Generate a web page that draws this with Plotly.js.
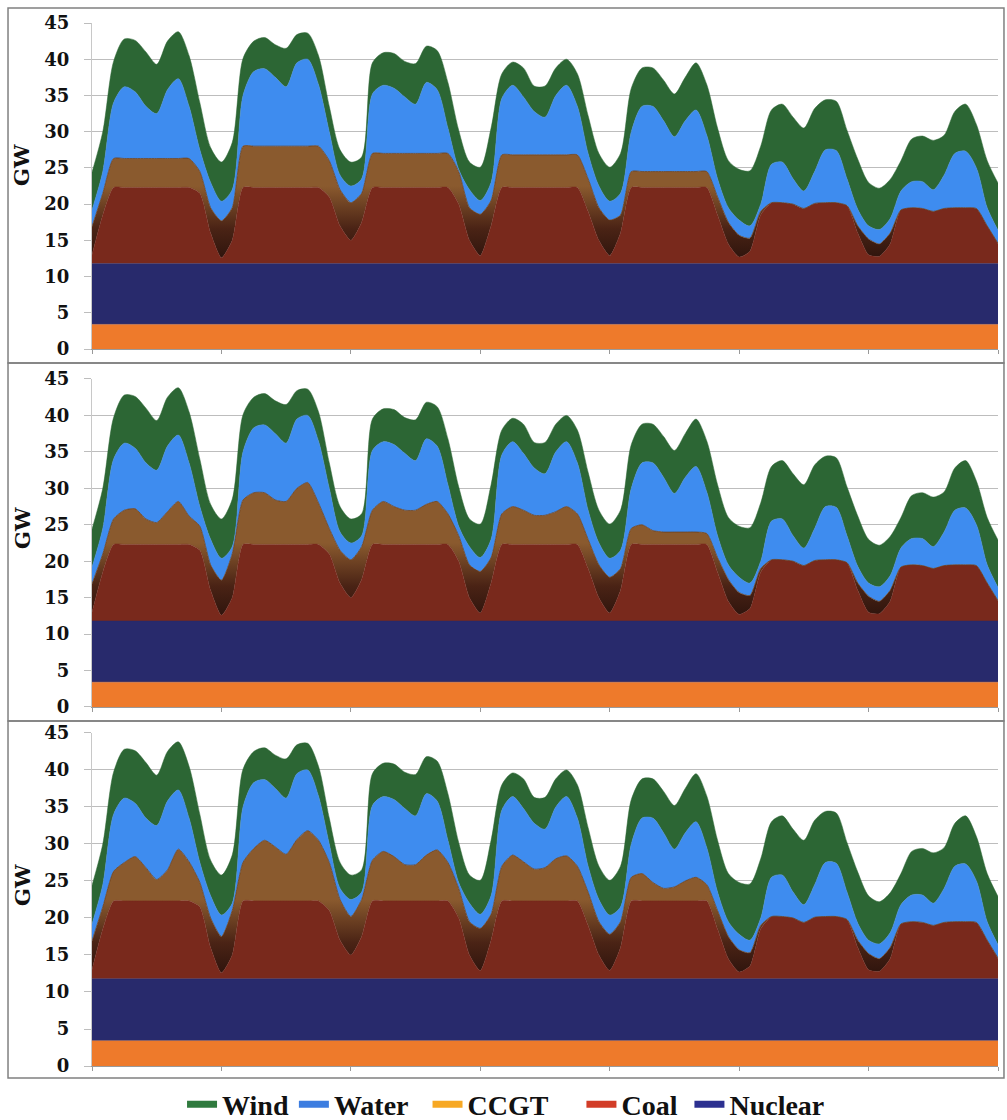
<!DOCTYPE html>
<html>
<head>
<meta charset="utf-8">
<script src="https://cdn.plot.ly/plotly-3.0.1.min.js"></script>
<style>html,body{margin:0;padding:0;background:#fff;}#chart{width:1007px;height:1120px;}</style>
</head>
<body>
<div id="chart"></div>
<script>
// ---- Data (GW). Hourly axis, one value every 2 hours (h0 .. h168) ----
// Upper boundary of each stacked layer.
const legendNames = ['Wind', 'Water', 'CCGT', 'Coal', 'Nuclear'];
const dayTicks = [0, 24, 48, 72, 96, 120, 144, 168];

const baseTop = [3.4, 3.4];        // orange base band (flat over the week)
const nuclearTop = [11.8, 11.8];   // nuclear (flat over the week)

const coalTop = [
  13.0,18.5,22.3,22.3,22.3,22.3,22.3,22.3,22.3,22.3,21.5,16.0,
  12.6,15.0,22.3,22.3,22.3,22.3,22.3,22.3,22.3,22.3,21.0,17.0,
  15.0,17.5,22.3,22.3,22.3,22.3,22.3,22.3,22.3,22.3,20.0,15.0,
  12.9,17.0,22.3,22.3,22.3,22.3,22.3,22.3,22.3,22.3,19.0,15.0,
  12.9,16.0,22.3,22.3,22.3,22.3,22.3,22.3,22.3,22.3,18.5,14.5,
  12.7,13.5,18.5,20.2,20.2,20.0,19.4,20.1,20.2,20.2,19.8,16.0,
  13.0,12.8,14.5,19.2,19.5,19.4,19.0,19.4,19.5,19.5,19.4,17.0,
  14.5];

const ccgtTop1 = [
  16.9,21.5,26.3,26.3,26.3,26.3,26.3,26.3,26.3,26.3,24.5,19.5,
  17.7,19.5,28.0,28.0,28.0,28.0,28.0,28.0,28.0,28.0,26.0,22.0,
  20.2,21.5,27.0,27.0,27.0,27.0,27.0,27.0,27.0,27.0,24.5,19.5,
  18.6,20.5,26.8,26.8,26.8,26.8,26.8,26.8,26.8,26.8,23.5,19.5,
  17.8,18.5,24.5,24.5,24.5,24.5,24.5,24.5,24.5,24.5,21.0,17.5,
  15.7,15.3,19.0,20.2,20.2,20.0,19.4,20.1,20.2,20.2,19.8,17.0,
  15.2,14.5,16.0,19.2,19.5,19.4,19.0,19.4,19.5,19.5,19.4,17.0,
  14.6];

const ccgtTop2 = [
  16.9,21.0,25.8,27.0,27.2,25.8,25.3,26.8,28.2,26.2,24.8,19.5,
  17.4,21.0,28.4,29.4,29.4,28.4,28.2,30.0,30.8,28.0,24.5,21.5,
  20.2,22.0,27.0,28.2,27.5,27.0,27.0,27.8,28.2,26.5,23.5,19.5,
  18.6,20.5,26.5,27.5,27.0,26.3,26.3,26.8,27.5,26.5,23.0,19.5,
  17.8,19.0,24.5,25.0,24.2,24.0,24.0,24.0,24.0,23.8,20.5,17.5,
  15.7,15.3,19.0,20.2,20.2,20.0,19.4,20.1,20.2,20.2,19.8,17.0,
  15.2,14.5,16.0,19.2,19.5,19.4,19.0,19.4,19.5,19.5,19.4,17.0,
  14.6];

const ccgtTop3 = [
  16.9,21.5,26.3,27.5,28.3,26.8,25.2,26.5,29.3,27.6,24.8,20.0,
  17.5,21.0,27.5,29.4,30.5,29.6,28.6,30.6,31.8,30.5,27.5,22.5,
  20.2,22.5,27.8,29.0,28.3,27.2,27.2,28.5,29.2,27.5,24.0,19.5,
  18.6,20.5,27.0,28.5,27.6,26.6,26.8,28.0,28.4,27.0,23.5,19.5,
  17.8,19.5,25.5,26.0,24.8,24.0,24.2,25.0,25.5,24.5,21.0,17.5,
  15.7,15.3,19.0,20.2,20.2,20.0,19.4,20.1,20.2,20.2,19.8,17.0,
  15.2,14.5,16.0,19.2,19.5,19.4,19.0,19.4,19.5,19.5,19.4,17.0,
  14.6];

const waterTop = [
  19.2,24.5,34.0,36.2,35.5,33.5,32.5,35.8,37.3,33.5,27.5,23.0,
  20.4,22.0,35.0,38.3,38.7,37.5,36.2,39.5,40.0,36.5,30.0,24.0,
  22.5,23.5,35.2,36.4,36.0,34.8,33.8,36.8,35.8,30.5,24.8,22.0,
  20.5,23.0,34.6,36.4,34.8,32.8,32.0,35.0,36.4,33.5,27.0,22.5,
  20.4,21.5,30.0,33.5,33.5,31.5,29.3,31.5,33.0,29.5,23.5,19.5,
  17.8,17.0,20.0,25.5,25.8,23.5,21.8,24.5,27.5,27.4,23.5,19.3,
  17.0,16.5,18.0,21.8,23.1,23.1,22.0,24.0,27.0,27.3,25.0,19.5,
  16.4];

const windTop = [
  24.4,30.0,39.7,42.8,42.6,41.0,39.3,42.5,43.8,40.5,34.0,27.8,
  25.8,28.5,40.1,42.5,43.0,42.0,41.5,43.4,43.6,40.5,33.5,27.5,
  25.8,26.5,39.5,40.9,40.8,39.7,39.4,41.8,41.2,36.8,30.2,25.8,
  25.1,30.5,38.0,39.6,38.8,36.3,36.3,38.8,40.0,38.0,32.2,27.0,
  25.1,27.0,36.0,38.8,38.8,37.1,35.2,37.5,39.5,36.5,30.5,26.0,
  24.8,24.6,28.0,33.0,33.8,32.0,30.5,33.2,34.4,34.2,30.2,26.2,
  23.0,22.2,23.4,26.0,29.0,29.4,28.8,29.5,32.8,33.8,31.0,26.0,
  22.9];

const ccgtPanels = [ccgtTop1, ccgtTop2, ccgtTop3];

// ---- Styles ----
const C = {
  base: '#ee7a2b', nuclear: '#282a6c', coal: '#79291c', ccgt: '#8a5a2e',
  water: '#3e8cef', wind: '#2c6634'
};
const legendColors = {Wind: '#2f7a3e', Water: '#3c7de0', CCGT: '#f7a823', Coal: '#d23c27', Nuclear: '#2c3090'};
// trailing no-break spaces only widen the gap after an entry (layout spacing)
const legendPad = {Wind: '', Water: '\u00a0\u00a0', CCGT: '\u00a0\u00a0\u00a0\u00a0', Coal: '\u00a0', Nuclear: ''};

const traces = [];
[1, 2, 3].forEach(function (p) {
  const xa = p === 1 ? 'x' : 'x' + p;
  const ya = p === 1 ? 'y' : 'y' + p;
  const common = {xaxis: xa, yaxis: ya, mode: 'lines', showlegend: false, hoverinfo: 'skip'};
  traces.push(Object.assign({}, common, {
    x0: 0, dx: 168, y: baseTop, fill: 'tozeroy', fillcolor: C.base, line: {width: 0.5, color: C.base}
  }));
  traces.push(Object.assign({}, common, {
    x0: 0, dx: 168, y: nuclearTop, fill: 'tonexty', fillcolor: C.nuclear, line: {width: 0.5, color: C.nuclear}
  }));
  traces.push(Object.assign({}, common, {
    x0: 0, dx: 2, y: coalTop, fill: 'tonexty', fillcolor: C.coal,
    line: {width: 0.5, color: C.coal, shape: 'spline', smoothing: 0.6}
  }));
  traces.push(Object.assign({}, common, {
    x0: 0, dx: 2, y: ccgtPanels[p - 1], fill: 'tonexty', fillcolor: C.ccgt,
    fillgradient: {type: 'vertical', start: 11.8, stop: 22.5,
      colorscale: [[0, '#2a120c'], [0.45, '#4a2315'], [1, C.ccgt]]},
    line: {width: 0.8, color: '#6a4020', shape: 'spline', smoothing: 0.6}
  }));
  traces.push(Object.assign({}, common, {
    x0: 0, dx: 2, y: waterTop, fill: 'tonexty', fillcolor: C.water,
    line: {width: 0.5, color: C.water, shape: 'spline', smoothing: 0.8}
  }));
  traces.push(Object.assign({}, common, {
    x0: 0, dx: 2, y: windTop, fill: 'tonexty', fillcolor: C.wind,
    line: {width: 0.5, color: C.wind, shape: 'spline', smoothing: 0.8}
  }));
});

// legend entries
legendNames.forEach(function (n) {
  traces.push({x: [null], y: [null], xaxis: 'x', yaxis: 'y', mode: 'lines', name: n + legendPad[n],
    line: {color: legendColors[n], width: 7}, showlegend: true, hoverinfo: 'skip'});
});

const tickFont = {family: 'DejaVu Serif', size: 18, color: '#111', weight: 'bold'};
function yax(domain) {
  return {domain: domain, range: [0, 45], dtick: 5, tick0: 0, tickfont: tickFont,
    showgrid: true, gridcolor: '#bdbdbd', gridwidth: 1, ticks: 'outside', ticklen: 7,
    tickcolor: '#bdbdbd', showline: true, linecolor: '#c8c8c8', linewidth: 1, zeroline: false,
    ticklabelstandoff: 11, fixedrange: true};
}
function xax(anchor) {
  return {anchor: anchor, domain: [0, 1], range: [0, 168], tickvals: dayTicks, showticklabels: false,
    showgrid: false, ticks: 'outside', ticklen: 4, tickcolor: '#999', showline: true,
    linecolor: '#9a9a9a', linewidth: 1, zeroline: false, fixedrange: true};
}

const gwFont = {family: 'DejaVu Serif', size: 21, color: '#111', weight: 'bold'};
const panelBox = {type: 'rect', xref: 'paper', yref: 'paper', x0: -0.0927, x1: 1.0066,
  line: {color: '#808080', width: 1.5}, fillcolor: 'rgba(0,0,0,0)', layer: 'above'};

const layout = {
  width: 1007, height: 1120,
  margin: {l: 92, r: 9, t: 23, b: 54, autoexpand: false},
  paper_bgcolor: '#fff', plot_bgcolor: '#fff',
  showlegend: true,
  legend: {orientation: 'h', x: 0.457, xanchor: 'center', y: -0.037, yanchor: 'middle',
    font: {family: 'Liberation Serif', size: 28, color: '#111', weight: 'bold'},
    itemwidth: 30, traceorder: 'normal', bgcolor: 'rgba(0,0,0,0)'},
  xaxis: xax('y'), xaxis2: xax('y2'), xaxis3: xax('y3'),
  yaxis: yax([0.6874, 1]), yaxis2: yax([0.3442, 0.6587]), yaxis3: yax([0, 0.3193]),
  annotations: [0.8639, 0.5158, 0.1735].map(function (yy) {
    return {text: 'GW', xref: 'paper', yref: 'paper', x: -0.0773, y: yy, showarrow: false,
      textangle: -90, font: gwFont, xanchor: 'center', yanchor: 'middle'};
  }),
  shapes: [
    Object.assign({}, panelBox, {y0: 0.6740, y1: 1.0144}),
    Object.assign({}, panelBox, {y0: 0.3308, y1: 0.6740}),
    Object.assign({}, panelBox, {y0: -0.0115, y1: 0.3308})
  ]
};

Plotly.newPlot('chart', traces, layout, {displayModeBar: false, staticPlot: true});
</script>
</body>
</html>
